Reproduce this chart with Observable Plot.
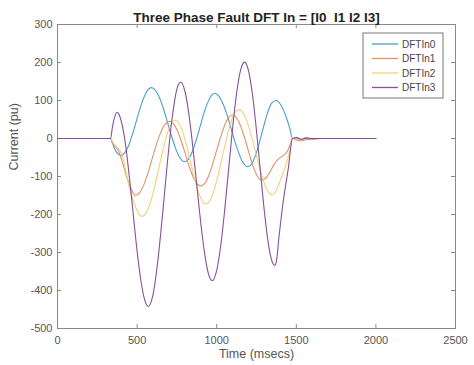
<!DOCTYPE html>
<html>
<head>
<meta charset="utf-8">
<script src="https://cdn.jsdelivr.net/npm/d3@7"></script>
<script src="https://cdn.jsdelivr.net/npm/@observablehq/plot@0.6"></script>
<style>
  html, body { margin: 0; padding: 0; background: #fff; }
  svg { display: block; }
</style>
</head>
<body>
<div id="chart"></div>
<script>
// ---- data ----
const titleText = "Three Phase Fault DFT In = [I0  I1 I2 I3]";
const xLabel = "Time (msecs)";
const yLabel = "Current (pu)";
const names = ["DFTIn0", "DFTIn1", "DFTIn2", "DFTIn3"];
const colors = ["#4a9fd0", "#e3916a", "#f3d07a", "#86509a"];
const xTicks = [0, 500, 1000, 1500, 2000, 2500];
const yTicks = [-500, -400, -300, -200, -100, 0, 100, 200, 300];

const t0 = [0,333,345,360,375,398,425,450,475,500,525,550,570,590,615,640,665,690,715,740,765,800,825,850,875,900,925,950,970,988,1015,1040,1065,1090,1115,1140,1165,1198,1220,1245,1270,1295,1320,1345,1375,1400,1420,1440,1458,1476,1500,1530,1560,1600,1650,2000];
const v0 = [0,0,-12,-28,-38,-45,-36,-15,17,53,88,115,129,134,127,108,79,44,8,-24,-48,-61,-53,-31,1,38,74,101,115,119,111,91,62,27,-9,-40,-63,-74,-67,-43,-8,32,68,93,100,90,74,52,28,0,3,-2,2,-1,0,0];

const t1 = [0,333,345,360,380,400,420,440,465,490,515,540,565,590,615,640,665,705,730,755,780,805,830,855,880,900,925,950,975,1000,1025,1050,1075,1100,1125,1150,1175,1200,1225,1250,1286,1310,1335,1360,1390,1420,1445,1462,1476,1500,1530,1560,1600,1650,2000];
const v1 = [0,0,-10,-20,-30,-52,-80,-108,-135,-150,-143,-124,-95,-60,-24,7,31,45,38,19,-10,-43,-77,-104,-121,-125,-118,-98,-67,-31,4,35,55,62,54,33,2,-34,-68,-95,-110,-103,-88,-68,-53,-44,-32,-15,0,-4,-6,-3,-2,0,0];

const t2 = [0,333,350,370,390,410,430,450,475,500,532,555,580,605,630,655,680,705,740,765,790,815,840,865,890,915,932,955,980,1005,1030,1055,1080,1105,1139,1165,1190,1215,1240,1265,1290,1320,1349,1370,1400,1425,1445,1462,1476,1500,1550,1600,2000];
const v2 = [0,0,-12,-22,-30,-50,-88,-125,-163,-190,-205,-197,-173,-136,-90,-43,-1,31,48,39,13,-25,-69,-112,-147,-168,-172,-165,-141,-103,-58,-12,30,60,76,68,45,11,-29,-71,-107,-138,-148,-140,-110,-82,-55,-25,0,-2,-1,0,0];

const t3 = [0,333,345,358,375,390,405,425,450,475,500,525,550,570,600,630,660,690,720,750,773,800,825,850,875,900,925,950,972,1000,1025,1050,1075,1100,1125,1150,1175,1200,1225,1250,1275,1300,1325,1345,1365,1378,1391,1418,1450,1476,1500,1530,1560,1600,2000];
const v3 = [0,0,30,55,69,60,38,-9,-96,-196,-296,-377,-428,-442,-411,-323,-199,-64,54,130,148,125,65,-22,-123,-223,-305,-359,-374,-347,-283,-189,-80,28,119,180,201,178,115,20,-88,-194,-278,-320,-334,-315,-260,-165,-78,0,2,-2,1,0,0];

const times = [t0, t1, t2, t3];
const values = [v0, v1, v2, v3];

// ---- table for Plot ----
const rows = [];
names.forEach((n, i) => {
  times[i].forEach((t, j) => rows.push({series: n, t, v: values[i][j]}));
});

const width = 474, height = 365;
const marginTop = 24, marginBottom = 37, marginLeft = 57, marginRight = 19;
const frameW = width - marginLeft - marginRight;
const frameH = height - marginTop - marginBottom;
const axisColor = "#8a8a8a";
const tickLen = 4;
const font = "'Liberation Sans', Arial, sans-serif";

const chart = Plot.plot({
  width, height, marginTop, marginBottom, marginLeft, marginRight,
  x: {domain: [0, 2500]},
  y: {domain: [-500, 300]},
  color: {domain: names, range: colors},
  style: {fontFamily: font, fontSize: "11px", color: "#444", background: "#fff"},
  marks: [
    Plot.frame({stroke: axisColor}),
    Plot.tickX(xTicks, {x: d => d, insetTop: frameH - tickLen, stroke: axisColor}),
    Plot.tickX(xTicks, {x: d => d, insetBottom: frameH - tickLen, stroke: axisColor}),
    Plot.tickY(yTicks, {y: d => d, insetRight: frameW - tickLen, stroke: axisColor}),
    Plot.tickY(yTicks, {y: d => d, insetLeft: frameW - tickLen, stroke: axisColor}),
    Plot.axisX(xTicks, {tickSize: 0, tickPadding: 8, label: null, fill: "#555", tickFormat: d => String(d), fontSize: 11}),
    Plot.axisY(yTicks, {tickSize: 0, tickPadding: 5, label: null, fill: "#555", tickFormat: d => String(d), fontSize: 11}),
    Plot.line(rows, {x: "t", y: "v", z: "series", stroke: "series", strokeWidth: 1.1, curve: "monotone-x"}),
    Plot.text([titleText], {frameAnchor: "top", dy: -12, fontWeight: "bold", fontSize: 13.5, fill: "#222"}),
    Plot.text([xLabel], {frameAnchor: "bottom", dy: 29, fontSize: 12.5, fill: "#555"}),
    Plot.text([yLabel], {frameAnchor: "left", dx: -44, dy: -6, rotate: -90, fontSize: 12.5, fill: "#555"})
  ]
});

document.getElementById("chart").appendChild(chart);

// ---- legend inside the axes (top-right) ----
const svg = d3.select(chart);
const boxW = 80, boxH = 65;
const boxRight = width - marginRight - 12;
const boxLeft = boxRight - boxW;
const boxTop = marginTop + 9;
const lg = svg.append("g").attr("font-family", font).attr("font-size", 10).attr("text-anchor", "start");
lg.append("rect").attr("x", boxLeft).attr("y", boxTop).attr("width", boxW).attr("height", boxH)
  .attr("fill", "#fff").attr("stroke", "#777");
names.forEach((n, i) => {
  const yy = boxTop + 11 + i * 14.5;
  lg.append("line").attr("x1", boxLeft + 9).attr("x2", boxLeft + 35).attr("y1", yy).attr("y2", yy)
    .attr("stroke", colors[i]).attr("stroke-width", 1.3);
  lg.append("text").attr("x", boxLeft + 39).attr("y", yy).attr("dy", "0.35em")
    .attr("text-anchor", "start").attr("fill", "#444").text(n);
});
</script>
</body>
</html>
